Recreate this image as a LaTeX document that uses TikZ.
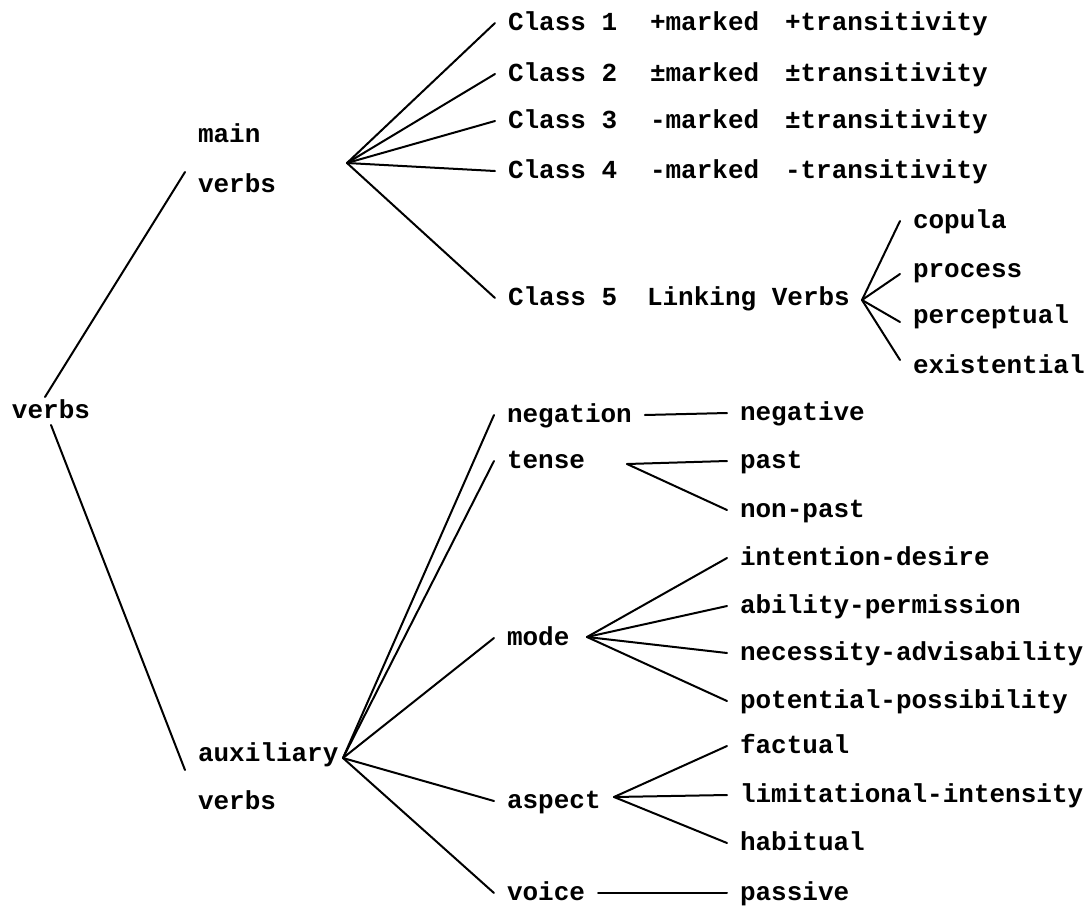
\documentclass[tikz,border=0pt]{standalone}
\usepackage{fontspec}
\setmonofont{Liberation Mono}
\begin{document}
\begin{tikzpicture}[x=1pt,y=-1pt,
  lbl/.style={anchor=base west, inner sep=0pt, outer xsep=13pt, outer ysep=0pt,
              text height=14pt, text depth=0pt,
              font=\ttfamily\bfseries\fontsize{26}{26}\selectfont},
  ln/.style={line width=2pt, line cap=round, black}]
\useasboundingbox (0,0) rectangle (1088,914);

% left part
\node[lbl] (root)   at (-1,418) {verbs};
\node[lbl] (mmain)  at (185,142) {main};
\node[lbl] (mverbs) at (185,192) {verbs};
\node[lbl] (aux)    at (185,761) {auxiliary};
\node[lbl] (auxv)   at (185,809) {verbs};

% main verb classes
\node[lbl] (c1) at (495,30)  {Class 1};
\node[lbl] (c2) at (495,81)  {Class 2};
\node[lbl] (c3) at (495,128) {Class 3};
\node[lbl] (c4) at (495,178) {Class 4};
\node[lbl] (c5) at (495,305) {Class 5};
\node[lbl] (m1) at (637,30)  {+marked};
\node[lbl] (m2) at (637,81)  {±marked};
\node[lbl] (m3) at (637,128) {-marked};
\node[lbl] (m4) at (637,178) {-marked};
\node[lbl] (t1) at (772,30)  {+transitivity};
\node[lbl] (t2) at (772,81)  {±transitivity};
\node[lbl] (t3) at (772,128) {±transitivity};
\node[lbl] (t4) at (772,178) {-transitivity};
\node[lbl] (link) at (634,305) {Linking Verbs};
\node[lbl] (copula)  at (900,228) {copula};
\node[lbl] (process) at (900,277) {process};
\node[lbl] (percep)  at (900,323) {perceptual};
\node[lbl] (exist)   at (900,373) {existential};

% auxiliary
\node[lbl] (neg)    at (494,422) {negation};
\node[lbl] (tense)  at (494,468) {tense};
\node[lbl] (mode)   at (494,645) {mode};
\node[lbl] (aspect) at (494,808) {aspect};
\node[lbl] (voice)  at (494,900) {voice};

\node[lbl] (negative)  at (727,420) {negative};
\node[lbl] (past)      at (727,468) {past};
\node[lbl] (nonpast)   at (727,517) {non-past};
\node[lbl] (intent)    at (727,565) {intention-desire};
\node[lbl] (ability)   at (727,613) {ability-permission};
\node[lbl] (necess)    at (727,660) {necessity-advisability};
\node[lbl] (potent)    at (727,708) {potential-possibility};
\node[lbl] (factual)   at (727,753) {factual};
\node[lbl] (limit)     at (727,802) {limitational-intensity};
\node[lbl] (habit)     at (727,850) {habitual};
\node[lbl] (passive)   at (727,900) {passive};

% fork points
\coordinate (fmain)  at (347,163);
\coordinate (flink)  at (862,300);
\coordinate (faux)   at (343,758);
\coordinate (ftense) at (627,464);
\coordinate (fmode)  at (587,637);
\coordinate (fasp)   at (614,797);

% connectors
\draw[ln] ([xshift=-6pt,yshift=7pt]root.north) -- ([yshift=13pt]mverbs.west);
\draw[ln] ([yshift=-7pt]root.south) -- ([yshift=-16pt]aux.west);

\foreach \n in {c1,c2,c3,c4,c5} \draw[ln] (fmain) -- (\n.west);

\draw[ln] (flink) -- (copula.west);
\draw[ln] (flink) -- ([yshift=-4pt]process.west);
\draw[ln] (flink) -- ([yshift=-6pt]percep.west);
\draw[ln] (flink) -- ([yshift=6pt]exist.west);

\foreach \n in {neg,tense,mode,aspect,voice} \draw[ln] (faux) -- (\n.west);

\draw[ln] (neg.east) -- (negative.west);
\draw[ln] (ftense) -- (past.west);
\draw[ln] (ftense) -- (nonpast.west);
\foreach \n in {intent,ability,necess,potent} \draw[ln] (fmode) -- (\n.west);
\foreach \n in {factual,limit,habit} \draw[ln] (fasp) -- (\n.west);
\draw[ln] (voice.east) -- (passive.west);
\end{tikzpicture}
\end{document}
